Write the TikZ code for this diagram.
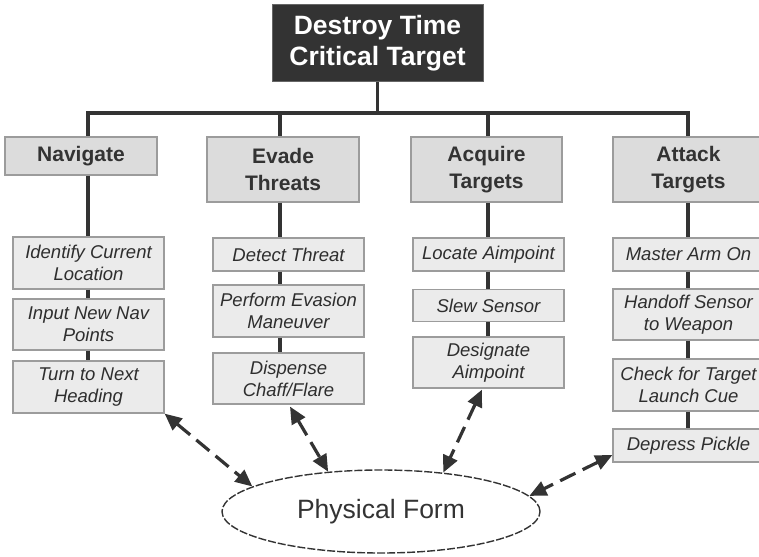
\documentclass[tikz,border=0pt]{standalone}
\usepackage{fontspec}
\setmainfont{Liberation Sans}
\usetikzlibrary{arrows.meta,shapes.geometric}

\definecolor{ink}{HTML}{333333}
\definecolor{headfill}{HTML}{DCDCDC}
\definecolor{subfill}{HTML}{EBEBEB}
\definecolor{edge}{HTML}{9C9C9C}

\tikzset{
  goalbox/.style={draw=gray!80!black, line width=1pt, fill=ink, text=white,
    inner sep=0pt, align=center, minimum width=211pt, minimum height=77pt,
    font=\bfseries\fontsize{26.5}{31}\selectfont},
  headbox/.style={draw=edge, line width=1.2pt, fill=headfill, text=ink,
    inner sep=0pt, align=center, minimum width=152pt,
    font=\bfseries\fontsize{21}{27}\selectfont},
  taskbox/.style={draw=edge, line width=1.2pt, fill=subfill, text=ink!90!black,
    inner sep=0pt, align=center, minimum width=151pt,
    font=\itshape\fontsize{18.5}{22}\selectfont},
  formnode/.style={ellipse, draw=ink, line width=1.4pt, dash pattern=on 8pt off 2pt,
    inner sep=0pt, minimum width=318pt, minimum height=83pt, text=ink,
    font=\fontsize{26.5}{30}\selectfont},
  trunk/.style={draw=ink, line width=3.2pt},
  link/.style={draw=ink, line width=3.2pt, dash pattern=on 17pt off 8pt,
    {Triangle[length=17pt,width=15pt]}-{Triangle[length=17pt,width=15pt]}},
}

\begin{document}
\begin{tikzpicture}[x=1pt, y=-1pt]
\useasboundingbox (0,0) rectangle (759,556);
\clip (0,0) rectangle (759,556);

% goal
\node[goalbox] (top) at (377.5,43.5) {Destroy Time\\Critical Target};

% functions
\node[headbox, minimum height=38pt] (nav) at (81,156)    {Navigate};
\node[headbox, minimum height=65pt] (eva) at (283,169.5) {Evade\\Threats};
\node[headbox, minimum height=65pt, minimum width=151pt] (acq) at (486.5,169.5) {Acquire\\Targets};
\node[headbox, minimum height=65pt, minimum width=151pt] (att) at (688.5,169.5) {Attack\\Targets};

% tasks: navigate
\node[taskbox, minimum height=52pt] (n1) at (88.5,263)   {Identify Current\\Location};
\node[taskbox, minimum height=51pt] (n2) at (88.5,324.5) {Input New Nav\\Points};
\node[taskbox, minimum height=52pt] (n3) at (88.5,387)   {Turn to Next\\Heading};

% tasks: evade threats
\node[taskbox, minimum height=33pt] (e1) at (288.5,254.5) {Detect Threat};
\node[taskbox, minimum height=52pt] (e2) at (288.5,311)   {Perform Evasion\\Maneuver};
\node[taskbox, minimum height=51pt] (e3) at (288.5,378.5) {Dispense\\Chaff/Flare};

% tasks: acquire targets
\node[taskbox, minimum height=33pt] (a1) at (488.5,254.5) {Locate Aimpoint};
\node[taskbox, minimum height=32pt] (a2) at (488.5,305.5) {Slew Sensor};
\node[taskbox, minimum height=51pt] (a3) at (488.5,362.5) {Designate\\Aimpoint};

% tasks: attack targets
\node[taskbox, minimum height=33pt] (t1) at (688.5,254.5) {Master Arm On};
\node[taskbox, minimum height=51pt] (t2) at (688.5,314.5) {Handoff Sensor\\to Weapon};
\node[taskbox, minimum height=52pt] (t3) at (688.5,385)   {Check for Target\\Launch Cue};
\node[taskbox, minimum height=33pt] (t4) at (688.5,445.5) {Depress Pickle};

% physical form
\node[formnode] (pf) at (381,511.5) {Physical Form};

% tree junctions
\coordinate (jN) at (88,113);
\coordinate (jE) at (280,113);
\coordinate (jA) at (488,113);
\coordinate (jT) at (688,113);

\draw[trunk] (top.south) -- (top.south |- jN);
\draw[trunk, line cap=rect] (jN) -- (jT);
\foreach \j/\h in {jN/nav, jE/eva, jA/acq, jT/att}
  \draw[trunk] (\j) -- (\j |- \h.north);

% column spines between boxes
\foreach \j/\u/\l in {jN/nav/n1, jN/n1/n2, jN/n2/n3,
                      jE/eva/e1, jE/e1/e2, jE/e2/e3,
                      jA/acq/a1, jA/a1/a2, jA/a2/a3,
                      jT/att/t1, jT/t1/t2, jT/t2/t3, jT/t3/t4}
  \draw[trunk] (\j |- \u.south) -- (\j |- \l.north);

% links to the physical form
\draw[link] (n3.south east) -- (pf.169);
\draw[link] ([xshift=1.5pt,yshift=-2pt]e3.south) -- (pf.143.6);
\draw[link] ([xshift=-6.5pt,yshift=-1pt]a3.south) -- (pf.32.2);
\draw[link] ([yshift=-9.5pt]t4.west) -- (pf.6.2);
\end{tikzpicture}
\end{document}
